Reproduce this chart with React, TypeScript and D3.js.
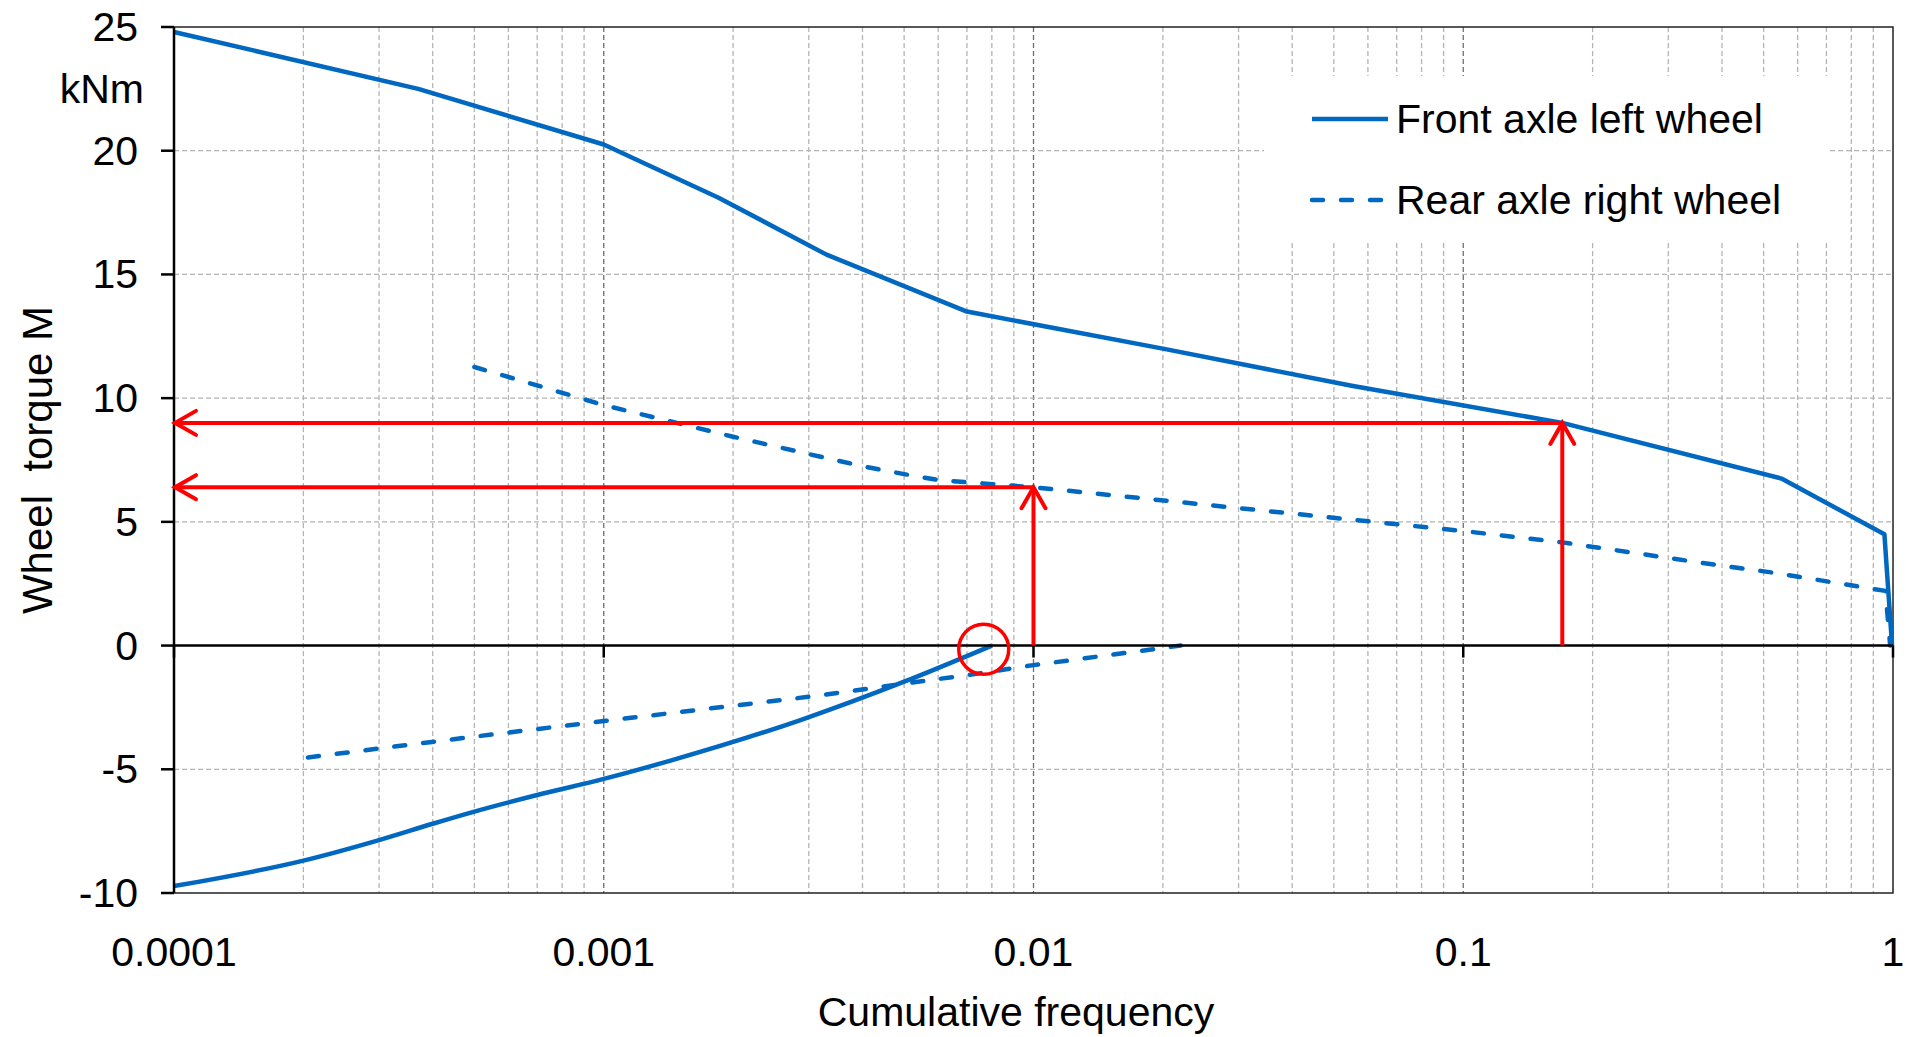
import { useEffect, useRef } from "react";
import * as d3 from "d3";

// x = cumulative frequency, y = wheel torque in kNm
const frontUpper = [
  [1e-4, 24.8], [3.7e-4, 22.5], [1e-3, 20.25], [1.85e-3, 18.1], [3.3e-3, 15.8],
  [7e-3, 13.5], [0.02, 12.0], [0.055, 10.5], [0.17, 9.0], [0.55, 6.75],
  [0.955, 4.5], [0.995, 0],
];
const frontLower = [
  [1e-4, -9.72], [2e-4, -8.69], [3e-4, -7.86], [4e-4, -7.2], [5e-4, -6.71],
  [7e-4, -6.04], [1e-3, -5.39], [1.43e-3, -4.65], [2.87e-3, -3.01],
  [5e-3, -1.46], [8e-3, 0],
];
const rearUpper = [
  [5e-4, 11.26], [1e-3, 9.72], [2e-3, 8.44], [3e-3, 7.74], [4e-3, 7.25],
  [5e-3, 6.93], [6e-3, 6.69], [0.01, 6.4], [0.1, 4.63], [0.17, 4.17],
  [0.357, 3.35], [0.53, 2.94], [0.96, 2.21], [0.985, 0],
];
const rearLower = [
  [2.05e-4, -4.52], [3e-4, -4.16], [5e-4, -3.68], [1e-3, -3.05], [3e-3, -2.07],
  [7.3e-3, -1.15], [0.01, -0.79], [0.022, 0],
];

const xTickValues = [1e-4, 1e-3, 1e-2, 1e-1, 1];
const xTickLabels = ["0.0001", "0.001", "0.01", "0.1", "1"];
const yTickValues = [25, 20, 15, 10, 5, 0, -5, -10];

// red read-off arrows and the marked zero crossing
const readX = [0.17, 0.01];
const readY = [9.0, 6.4];
const markX = 7.66e-3;
const markY = -0.15;

const legendLabels = ["Front axle left wheel", "Rear axle right wheel"];

const width = 1906;
const height = 1037;
const left = 174;
const right = 1893;
const top = 27;
const bottom = 893;
const blue = "#0068c0";
const font = "'Liberation Sans', Arial, sans-serif";

function App() {
  const svgRef = useRef(null);

  useEffect(() => {
    document.body.style.margin = "0";
    const svg = d3.select(svgRef.current);
    svg.selectAll("*").remove();

    const x = d3.scaleLog().domain([1e-4, 1]).range([left, right]);
    const y = d3.scaleLinear().domain([-10, 25]).range([bottom, top]);

    svg.append("rect").attr("width", width).attr("height", height).attr("fill", "#fff");

    // grid
    const majors = xTickValues.map((v) => Math.round(Math.log10(v)));
    svg
      .append("g")
      .selectAll("line")
      .data(x.ticks().filter((v) => v > 1e-4 && v < 1))
      .join("line")
      .attr("x1", (d) => x(d))
      .attr("x2", (d) => x(d))
      .attr("y1", top)
      .attr("y2", bottom)
      .attr("stroke", (d) =>
        majors.includes(Math.log10(d)) ? "#6e6e6e" : "#b4b4b4"
      )
      .attr("stroke-width", 1.3)
      .attr("stroke-dasharray", "5 3");
    svg
      .append("g")
      .selectAll("line")
      .data(yTickValues.filter((v) => v !== 0 && v !== 25 && v !== -10))
      .join("line")
      .attr("x1", left)
      .attr("x2", right)
      .attr("y1", (d) => y(d))
      .attr("y2", (d) => y(d))
      .attr("stroke", "#b4b4b4")
      .attr("stroke-width", 1.3)
      .attr("stroke-dasharray", "5 3");

    // legend box covers the grid
    svg
      .append("rect")
      .attr("x", 1264)
      .attr("y", 76)
      .attr("width", 565)
      .attr("height", 165)
      .attr("fill", "#fff");

    // plot frame
    svg
      .append("rect")
      .attr("x", left)
      .attr("y", top)
      .attr("width", right - left)
      .attr("height", bottom - top)
      .attr("fill", "none")
      .attr("stroke", "#222")
      .attr("stroke-width", 1.5);

    // series
    const lineGen = d3
      .line()
      .x((d) => x(d[0]))
      .y((d) => y(d[1]));
    const smoothGen = d3
      .line()
      .x((d) => x(d[0]))
      .y((d) => y(d[1]))
      .curve(d3.curveMonotoneX);

    const series = [
      { data: frontUpper, gen: lineGen, dash: null },
      { data: frontLower, gen: smoothGen, dash: null },
      { data: rearUpper, gen: lineGen, dash: "11 18" },
      { data: rearLower, gen: lineGen, dash: "11 18" },
    ];
    series.forEach((s) => {
      svg
        .append("path")
        .attr("d", s.gen(s.data))
        .attr("fill", "none")
        .attr("stroke", blue)
        .attr("stroke-width", 4.5)
        .attr("stroke-linejoin", "round")
        .attr("stroke-linecap", s.dash ? "round" : "butt")
        .attr("stroke-dasharray", s.dash);
    });

    // axes
    svg
      .append("line")
      .attr("x1", left)
      .attr("x2", right)
      .attr("y1", y(0))
      .attr("y2", y(0))
      .attr("stroke", "#000")
      .attr("stroke-width", 2.5);
    svg
      .append("line")
      .attr("x1", left)
      .attr("x2", left)
      .attr("y1", top)
      .attr("y2", bottom)
      .attr("stroke", "#000")
      .attr("stroke-width", 2.5);

    svg
      .append("g")
      .selectAll("line")
      .data(yTickValues)
      .join("line")
      .attr("x1", left - 13)
      .attr("x2", left)
      .attr("y1", (d) => y(d))
      .attr("y2", (d) => y(d))
      .attr("stroke", "#000")
      .attr("stroke-width", 2.5);
    svg
      .append("g")
      .selectAll("line")
      .data(xTickValues)
      .join("line")
      .attr("x1", (d) => x(d))
      .attr("x2", (d) => x(d))
      .attr("y1", y(0))
      .attr("y2", y(0) + 12)
      .attr("stroke", "#000")
      .attr("stroke-width", 2.5);

    const label = (g) =>
      g.attr("font-family", font).attr("font-size", 41).attr("fill", "#000");

    svg
      .append("g")
      .call(label)
      .attr("text-anchor", "end")
      .selectAll("text")
      .data(yTickValues)
      .join("text")
      .attr("x", 138)
      .attr("y", (d) => y(d) + 14)
      .text((d) => String(d));

    svg
      .append("g")
      .call(label)
      .attr("text-anchor", "middle")
      .selectAll("text")
      .data(xTickValues)
      .join("text")
      .attr("x", (d) => x(d))
      .attr("y", 966)
      .text((d, i) => xTickLabels[i]);

    svg
      .append("text")
      .call(label)
      .attr("text-anchor", "end")
      .attr("x", 144)
      .attr("y", 103)
      .text("kNm");

    svg
      .append("text")
      .call(label)
      .attr("font-size", 42)
      .attr("text-anchor", "middle")
      .attr("transform", "translate(52," + 460 + ") rotate(-90)")
      .style("white-space", "pre")
      .text("Wheel  torque M");

    svg
      .append("text")
      .call(label)
      .attr("text-anchor", "middle")
      .attr("x", 1016)
      .attr("y", 1026)
      .text("Cumulative frequency");

    // legend
    legendLabels.forEach((name, i) => {
      const ly = 119 + i * 81;
      svg
        .append("line")
        .attr("x1", 1312)
        .attr("x2", 1388)
        .attr("y1", ly)
        .attr("y2", ly)
        .attr("stroke", blue)
        .attr("stroke-width", 4.5)
        .attr("stroke-linecap", i ? "round" : "butt")
        .attr("stroke-dasharray", i ? "11 18" : null);
      svg
        .append("text")
        .call(label)
        .attr("x", 1396)
        .attr("y", ly + 14)
        .text(name);
    });

    // read-off arrows
    const defs = svg.append("defs");
    defs
      .append("marker")
      .attr("id", "arrowHead")
      .attr("markerUnits", "userSpaceOnUse")
      .attr("orient", "auto")
      .attr("refX", 0)
      .attr("refY", 0)
      .attr("markerWidth", 40)
      .attr("markerHeight", 40)
      .attr("viewBox", "-30 -20 40 40")
      .append("path")
      .attr("d", "M-21,-12L0,0L-21,12")
      .attr("fill", "none")
      .attr("stroke", "#ff0000")
      .attr("stroke-width", 4)
      .attr("stroke-linecap", "round");

    readX.forEach((fx, i) => {
      const ty = readY[i];
      svg
        .append("line")
        .attr("x1", x(fx))
        .attr("x2", x(fx))
        .attr("y1", y(0))
        .attr("y2", y(ty))
        .attr("stroke", "#ff0000")
        .attr("stroke-width", 4)
        .attr("marker-end", "url(#arrowHead)");
      svg
        .append("line")
        .attr("x1", x(fx))
        .attr("x2", x(1e-4) + 1)
        .attr("y1", y(ty))
        .attr("y2", y(ty))
        .attr("stroke", "#ff0000")
        .attr("stroke-width", 4)
        .attr("marker-end", "url(#arrowHead)");
    });

    svg
      .append("circle")
      .attr("cx", x(markX))
      .attr("cy", y(markY))
      .attr("r", 25)
      .attr("fill", "none")
      .attr("stroke", "#ff0000")
      .attr("stroke-width", 3.5);
  }, []);

  return (
    <svg
      ref={svgRef}
      width={width}
      height={height}
      style={{ position: "absolute", left: 0, top: 0, display: "block" }}
    />
  );
}

export default App;
